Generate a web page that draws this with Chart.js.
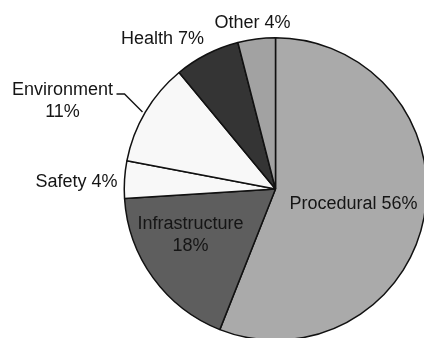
<!DOCTYPE html>
<html>
<head>
<meta charset="utf-8">
<script src="https://cdn.jsdelivr.net/npm/chart.js@4/dist/chart.umd.min.js"></script>
<style>
  html, body { margin: 0; padding: 0; background: #fff; overflow: hidden; }
  body { width: 424px; height: 338px; position: relative; }
  #wrap { position: absolute; left: 0; top: 0; width: 551px; height: 378px; }
</style>
</head>
<body>
<div id="wrap"><canvas id="chart"></canvas></div>
<script>
// issue categories, clockwise from 12 o'clock
let categories = ['Procedural', 'Infrastructure', 'Safety', 'Environment', 'Health', 'Other']
let shares = [56, 18, 4, 11, 7, 4]
let fills = ['#aaaaaa', '#5e5e5e', '#f8f8f8', '#f8f8f8', '#343434', '#a2a2a2']

// label text per slice, offset from the pie centre in px (dx, dy)
let labelSpots = [
    {lines: [categories[0] + ' ' + shares[0] + '%'], dx: 78, dy: 15},
    {lines: [categories[1], shares[1] + '%'], dx: -85, dy: 35},
    {lines: [categories[2] + ' ' + shares[2] + '%'], dx: -199, dy: -7},
    {lines: [categories[3], shares[3] + '%'], dx: -213, dy: -99},
    {lines: [categories[4] + ' ' + shares[4] + '%'], dx: -113, dy: -150},
    {lines: [categories[5] + ' ' + shares[5] + '%'], dx: -23, dy: -166},
]

const pieLabels = {
    id: 'pieLabels',
    afterDraw(chart) {
        let ctx = chart.ctx
        let arc = chart.getDatasetMeta(0).data[0]
        let cx = arc.x, cy = arc.y
        ctx.save()
        ctx.fillStyle = '#151515'
        ctx.font = '18px "Liberation Sans", Arial, sans-serif'
        ctx.textBaseline = 'middle'
        ctx.textAlign = 'center'
        labelSpots.forEach((l) => {
            l.lines.forEach((t, i) => {
                ctx.fillText(t, cx + l.dx, cy + l.dy + i * 22)
            })
        })
        // leader line for Environment
        ctx.strokeStyle = '#151515'
        ctx.lineWidth = 1.4
        ctx.beginPath()
        ctx.moveTo(cx - 159, cy - 95)
        ctx.lineTo(cx - 151, cy - 95)
        ctx.lineTo(cx - 133, cy - 77)
        ctx.stroke()
        ctx.restore()
    },
}

new Chart(
    document.getElementById('chart'),
    {
        type: 'pie',
        data: {
            labels: categories,
            datasets: [{
                data: shares,
                backgroundColor: fills,
                borderColor: '#111',
                borderWidth: 1.5,
                hoverOffset: 0,
            }],
        },
        options: {
            responsive: true,
            maintainAspectRatio: false,
            animation: false,
            layout: {padding: {left: 123.5, right: 123.5, top: 37, bottom: 37}},
            plugins: {
                legend: {display: false},
                tooltip: {enabled: false},
            },
        },
        plugins: [pieLabels],
    },
)
</script>
</body>
</html>
